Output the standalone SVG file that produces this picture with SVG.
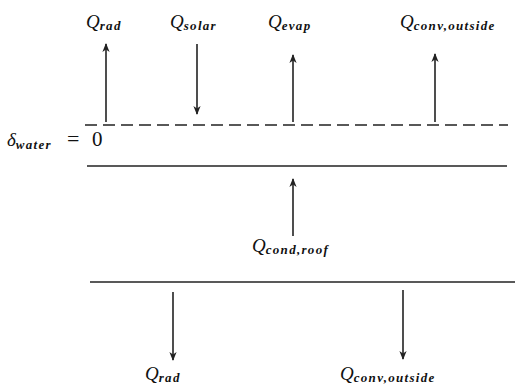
<svg xmlns="http://www.w3.org/2000/svg" width="517" height="388" viewBox="0 0 517 388">
<style>
.q{font-family:"Liberation Serif","DejaVu Serif",serif;font-style:italic;font-size:19px;fill:#111}
.s{font-size:13px;font-weight:bold;letter-spacing:1.3px}
.ln{stroke:#222;stroke-width:1.6;fill:none}
.ar{stroke:#222;stroke-width:1.6;fill:none;marker-end:url(#ah)}
</style>
<defs>
<marker id="ah" viewBox="0 0 10 10" refX="9" refY="5" markerWidth="12" markerHeight="9" orient="auto" markerUnits="userSpaceOnUse">
<path d="M0,1 L10,5 L0,9 L3,5 Z" fill="#222"/>
</marker>
</defs>
<rect width="517" height="388" fill="#fff"/>
<g id="layers">
<line class="ln" x1="85" y1="125" x2="508" y2="125" stroke-dasharray="12,6"/>
<line class="ln" x1="87" y1="166" x2="507" y2="166"/>
<line class="ln" x1="90" y1="282" x2="515" y2="282"/>
</g>
<g id="connectors">
<line class="ar" x1="106" y1="122" x2="106" y2="44"/>
<line class="ar" x1="197" y1="44" x2="197" y2="114"/>
<line class="ar" x1="293" y1="122" x2="293" y2="55"/>
<line class="ar" x1="435" y1="122" x2="435" y2="54"/>
<line class="ar" x1="293" y1="236" x2="293" y2="179"/>
<line class="ar" x1="173" y1="292" x2="173" y2="360"/>
<line class="ar" x1="403" y1="290" x2="403" y2="359"/>
</g>
<g id="top-labels">
<text class="q" x="86" y="28">Q<tspan class="s" dy="2">rad</tspan></text>
<text class="q" x="170" y="28">Q<tspan class="s" dy="2">solar</tspan></text>
<text class="q" x="268" y="28">Q<tspan class="s" dy="2">evap</tspan></text>
<text class="q" x="400" y="28">Q<tspan class="s" dy="2">conv,outside</tspan></text>
</g>
<g id="water">
<text class="q" x="7" y="146">δ<tspan class="s" dy="3" letter-spacing="2.5px">water</tspan><tspan x="67" dy="-3" font-style="normal" font-size="22">=</tspan><tspan x="92" font-style="normal" font-size="21">0</tspan></text>
</g>
<g id="roof">
<text class="q" x="252" y="252">Q<tspan class="s" dy="2">cond,roof</tspan></text>
</g>
<g id="bottom-labels">
<text class="q" x="145" y="380">Q<tspan class="s" dy="2">rad</tspan></text>
<text class="q" x="340" y="380">Q<tspan class="s" dy="2">conv,outside</tspan></text>
</g>
</svg>
